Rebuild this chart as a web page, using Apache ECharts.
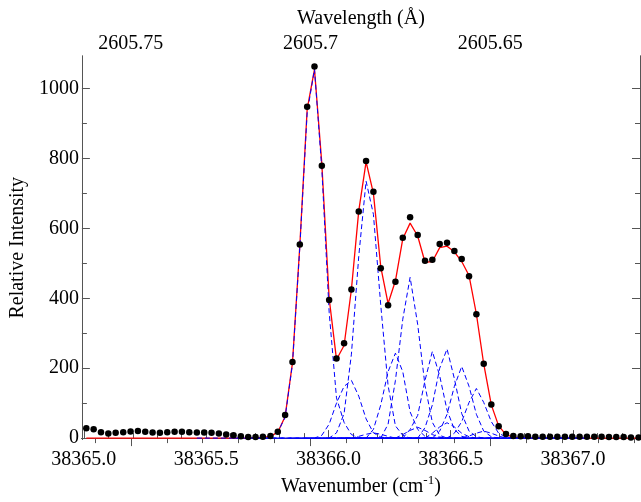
<!DOCTYPE html>
<html>
<head>
<meta charset="utf-8">
<script src="https://cdn.jsdelivr.net/npm/echarts@6/dist/echarts.min.js"></script>
<style>html,body{margin:0;padding:0;background:#fff}#c{width:641px;height:502px}</style>
</head>
<body>
<div id="c"></div>
<script>
// Wavenumber (cm^-1) of each measured point
const wavenumber = [
38365.010,38365.040,38365.070,38365.100,38365.130,38365.161,38365.191,38365.221,38365.251,38365.281,
38365.311,38365.341,38365.371,38365.401,38365.431,38365.462,38365.492,38365.522,38365.552,38365.582,
38365.612,38365.642,38365.672,38365.702,38365.732,38365.763,38365.793,38365.823,38365.853,38365.883,
38365.913,38365.943,38365.973,38366.003,38366.033,38366.064,38366.094,38366.124,38366.154,38366.184,
38366.214,38366.244,38366.274,38366.304,38366.334,38366.365,38366.395,38366.425,38366.455,38366.485,
38366.515,38366.545,38366.575,38366.605,38366.635,38366.666,38366.696,38366.726,38366.756,38366.786,
38366.816,38366.846,38366.876,38366.906,38366.936,38366.967,38366.997,38367.027,38367.057,38367.087,
38367.117,38367.147,38367.177,38367.207,38367.237,38367.268];
// Measured relative intensity (black dots)
const measured = [
28,25,17,13,15,17,19,20,18,16,15,17,18,18,17,16,16,15,13,10,8,5,3,3,4,
6,18,66,218,554,948,1063,779,395,228,271,425,648,793,705,486,380,447,573,632,581,507,510,555,559,535,512,463,354,213,96,34,12,6,
5,5,4,4,4,4,4,4,4,4,4,4,3,3,3,2,2];
// Total fit (red line)
const fit = [
0,0,0,0,0,0,0,0,0,0,0,0,0,0,0,0,0,0,0,0,0,0,0,
1,2,5,17,62,215,550,940,1055,785,400,225,265,425,650,790,700,490,385,450,570,615,578,503,505,545,549,533,505,465,355,212,95,35,10,3,1,
0,0,0,0,0,0,0,0,0,0,0,0,0,0,0,0];
// Fit components (blue dashed): core values, index of first core value, baseline span [from,to]
const comp1 = [4,16,60,212,545,930,1055,770,360,115,45,10,2];
const comp2 = [8,40,100,148,165,120,55,15,3];
const comp3 = [15,70,240,520,735,640,380,150,35,8];
const comp4 = [25,95,190,243,190,75,25,5];
const comp5 = [40,165,340,460,325,150,45,8];
const comp6 = [25,65,165,248,178,80,25,5];
const comp7 = [30,95,200,255,170,70,20,4];
const comp8 = [20,68,148,205,148,68,20,4];
const comp9 = [14,47,102,142,102,47,14,3];
const comp10 = [10,22,31,22,10,3];
const comp11 = [14,32,44,32,14,4];
const comp12 = [5,11,15,11,5];
const comp13 = [6,14,20,14,6];
const components = [comp1,comp2,comp3,comp4,comp5,comp6,comp7,comp8,comp9,comp10,comp11,comp12,comp13];
const compStart = [25,32,34,39,41,44,46,48,50,43,47,37,52];
const compSpan = [[15,47],[20,52],[22,54],[26,58],[28,60],[31,63],[33,65],[35,67],[37,68],[30,62],[33,65],[24,56],[38,68]];

// Tick values / labels
const bottomMajor = [38365.0,38365.5,38366.0,38366.5,38367.0];
const bottomMinor = [38365.1,38365.2,38365.3,38365.4,38365.6,38365.7,38365.8,38365.9,38366.1,38366.2,38366.3,38366.4,38366.6,38366.7,38366.8,38366.9,38367.1,38367.2];
const topMajor = [2605.65,2605.7,2605.75];
const topLabels = ['2605.65','2605.7','2605.75'];
const topMinor = [2605.61,2605.62,2605.63,2605.64,2605.66,2605.67,2605.68,2605.69,2605.71,2605.72,2605.73,2605.74,2605.76];
const yMajor = [0,200,400,600,800,1000];
const yMinor = [100,300,500,700,900];

const FONT = 'Liberation Serif';
const AX = '#555';
const xMin = 38364.992, xMax = 38367.274;
const lMin = 2605.60833, lMax = 2605.76361;
const yMin = -4, yMax = 1093;

function tickAxis(base, vals, len) {
  return Object.assign({
    type: 'value', splitLine: {show: false}, z: 0,
    axisLine: {show: true, lineStyle: {color: AX, width: 1}},
    axisTick: {show: true, inside: true, length: len, customValues: vals, lineStyle: {color: AX, width: 1}},
    axisLabel: {show: false}
  }, base);
}

const xAxes = [
  tickAxis({position: 'bottom', min: xMin, max: xMax,
    axisLabel: {show: true, customValues: bottomMajor, formatter: v => Number(v).toFixed(1),
      fontFamily: FONT, fontSize: 20, color: '#000', margin: 10},
    name: 'Wavenumber (cm{sup|-1})', nameLocation: 'middle', nameGap: 35,
    nameTextStyle: {fontFamily: FONT, fontSize: 20, color: '#000',
      rich: {sup: {fontFamily: FONT, fontSize: 13, color: '#000', padding: [0,0,12,0]}}}
  }, bottomMajor, 8),
  tickAxis({position: 'bottom', min: xMin, max: xMax}, bottomMinor, 5),
  tickAxis({position: 'top', min: lMin, max: lMax, inverse: true,
    axisLabel: {show: true, customValues: topMajor,
      formatter: v => { const k = topMajor.findIndex(t => Math.abs(t - v) < 1e-6); return k >= 0 ? topLabels[k] : ''; },
      fontFamily: FONT, fontSize: 20, color: '#000', margin: 2},
    name: 'Wavelength (Å)', nameLocation: 'middle', nameGap: 8,
    nameTextStyle: {fontFamily: FONT, fontSize: 20, color: '#000'}
  }, topMajor, 8),
  tickAxis({position: 'top', min: lMin, max: lMax, inverse: true}, topMinor, 5)
];
const yAxes = [
  tickAxis({position: 'left', min: yMin, max: yMax,
    axisLabel: {show: true, customValues: yMajor, formatter: v => String(v), fontFamily: FONT, fontSize: 20, color: '#000', margin: 3},
    name: 'Relative Intensity', nameLocation: 'middle', nameGap: 50, nameRotate: 90,
    nameTextStyle: {fontFamily: FONT, fontSize: 20, color: '#000'}
  }, yMajor, 8),
  tickAxis({position: 'left', min: yMin, max: yMax}, yMinor, 5),
  tickAxis({position: 'right', min: yMin, max: yMax}, yMajor, 8),
  tickAxis({position: 'right', min: yMin, max: yMax}, yMinor, 5)
];

const series = [];
series.push({
  type: 'line', name: 'fit', xAxisIndex: 0, yAxisIndex: 0, showSymbol: false, z: 2, clip: false,
  lineStyle: {color: '#ff0000', width: 1.3}, data: wavenumber.map((x, i) => [x, fit[i]])
});
components.forEach((c, k) => {
  const [from, to] = compSpan[k];
  const pts = [];
  for (let i = from; i <= to; i++) {
    const j = i - compStart[k];
    pts.push([wavenumber[i], (j >= 0 && j < c.length) ? c[j] : 0]);
  }
  series.push({
    type: 'line', xAxisIndex: 0, yAxisIndex: 0, showSymbol: false, z: 3, clip: false,
    lineStyle: {color: '#0000ff', width: 1, type: [5, 3]}, data: pts
  });
});
series.push({
  type: 'scatter', name: 'measured', xAxisIndex: 0, yAxisIndex: 0, z: 5,
  symbol: 'circle', symbolSize: 6.5, itemStyle: {color: '#000', opacity: 1},
  data: wavenumber.map((x, i) => [x, measured[i]])
});

const chart = echarts.init(document.getElementById('c'));
chart.setOption({
  animation: false,
  backgroundColor: '#fff',
  grid: {left: 81, right: 1, top: 56, bottom: 54, containLabel: false},
  xAxis: xAxes,
  yAxis: yAxes,
  series: series
});
</script>
</body>
</html>
